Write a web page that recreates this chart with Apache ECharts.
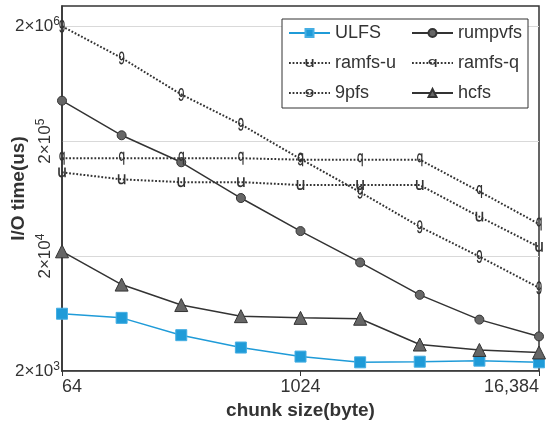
<!DOCTYPE html>
<html>
<head>
<meta charset="utf-8">
<script src="https://cdn.jsdelivr.net/npm/echarts@6/dist/echarts.min.js"></script>
<style>
  html,body{margin:0;padding:0;background:#fff}
  #main{width:550px;height:429px}
</style>
</head>
<body>
<div id="main"></div>
<script>
// chunk sizes (byte) on x, I/O time (us) on y
const chunkSizes = [64, 128, 256, 512, 1024, 2048, 4096, 8192, 16384]
const ulfs    = [6300, 5800, 4100, 3200, 2670, 2380, 2410, 2460, 2380]
const rumpvfs = [450000, 225000, 131000, 64000, 33000, 17600, 9200, 5600, 4000]
const ramfsU  = [107000, 93000, 88000, 88000, 83000, 83000, 83000, 44000, 24000]
const ramfsQ  = [142000, 142000, 142000, 142000, 138000, 138000, 138000, 73000, 38000]
const ninePfs = [2000000, 1060000, 510000, 280000, 140000, 72000, 36000, 19800, 10600]
const hcfs    = [22000, 11300, 7500, 6000, 5800, 5700, 3400, 3050, 2900]

const xTicks = [64, 1024, 16384]
const yTicksFlat = [2000, 2000000]
const yTicksTurned = [20000, 200000]
const yTicksAll = [2000, 20000, 200000, 2000000]

const pairs = arr => chunkSizes.map((c, i) => [c, arr[i]])

// letter markers
const glyphU = 'path://M0,0 H13 V45 C13,55 19,59 30,59 C41,59 47,51 47,42 V0 H60 V70 H48 V61 C43,67 37,71 28,71 C10,71 0,62 0,45 Z'
const glyphQ = 'path://M47,0 H60 V100 H47 V60 C43,67 36,71 27,71 C11,71 0,56 0,35 C0,14 11,0 27,0 C36,0 43,4 47,11 Z M47,35 C47,21 40,12 30,12 C20,12 13,21 13,35 C13,49 20,59 30,59 C40,59 47,49 47,35 Z'
const glyph9 = 'path://M30,0 C48,0 60,14 60,38 V55 C60,85 48,100 28,100 C12,100 3,91 1,77 L14,75 C16,84 21,88 28,88 C40,88 47,78 47,58 C43,66 36,70 27,70 C11,70 0,56 0,36 C0,14 12,0 30,0 Z M30,12 C20,12 13,21 13,36 C13,49 20,58 30,58 C40,58 47,49 47,36 C47,21 40,12 30,12 Z'

function powLabel(v){
  const e = Math.floor(Math.log10(v) + 1e-9)
  return '{a|2×10}{s|' + e + '}'
}
const supRich = {
  a: {fontSize: 17, color: '#333', fontFamily: 'Liberation Sans'},
  s: {fontSize: 12, color: '#333', fontFamily: 'Liberation Sans', padding: [0, 0, 9, 0]}
}

const dark = '#333'
const myChart = echarts.init(document.getElementById('main'))

const dotted = (name, data, glyph, size) => ({
  name: name,
  type: 'line',
  data: pairs(data),
  symbol: glyph,
  symbolSize: size,
  symbolKeepAspect: true,
  lineStyle: {color: dark, width: 2, type: [1.8, 1.8]},
  itemStyle: {color: '#333'}
})

myChart.setOption({
  animation: false,
  grid: {left: 62, right: 11, top: 6, bottom: 58, show: true, borderColor: dark, borderWidth: 1.5, outerBoundsMode: 'none', containLabel: false},
  legend: {
    left: 282, top: 19, width: 236,
    padding: [5, 6, 6, 6],
    itemWidth: 41, itemHeight: 10, itemGap: 12,
    backgroundColor: '#fff', borderColor: dark, borderWidth: 1,
    textStyle: {fontSize: 18, color: '#333', fontFamily: 'Liberation Sans', width: 64, lineHeight: 18},
    data: ['ULFS', 'rumpvfs', 'ramfs-u', 'ramfs-q', '9pfs', 'hcfs']
  },
  xAxis: {
    type: 'log', logBase: 2, min: 64, max: 16384,
    name: 'chunk size(byte)', nameLocation: 'middle', nameGap: 30,
    nameTextStyle: {fontSize: 19, fontWeight: 'bold', color: '#333', fontFamily: 'Liberation Sans'},
    axisLine: {lineStyle: {color: dark, width: 1.5}},
    axisTick: {show: true, length: 5, customValues: xTicks, lineStyle: {color: dark}},
    axisLabel: {
      customValues: xTicks, fontSize: 18, color: '#333', margin: 7,
      fontFamily: 'Liberation Sans',
      alignMinLabel: 'left', alignMaxLabel: 'right',
      formatter: v => v >= 10000 ? String(v).replace(/\B(?=(\d{3})+(?!\d))/g, ',') : String(v)
    },
    splitLine: {show: false}
  },
  yAxis: [{
    type: 'log', min: 2000, max: 3000000,
    name: 'I/O time(us)', nameLocation: 'middle', nameGap: 34, nameMoveOverlap: false,
    nameTextStyle: {fontSize: 19, fontWeight: 'bold', color: '#333', fontFamily: 'Liberation Sans'},
    axisLine: {show: true, lineStyle: {color: dark, width: 1.5}},
    axisTick: {show: false, customValues: yTicksAll},
    axisLabel: {customValues: yTicksFlat, margin: 2, formatter: powLabel, rich: supRich},
    splitLine: {show: true, lineStyle: {color: '#d9d9d9', width: 1}}
  }, {
    type: 'log', min: 2000, max: 3000000, position: 'left',
    axisLine: {show: false}, axisTick: {show: false},
    axisLabel: {customValues: yTicksTurned, rotate: 90, margin: 6, formatter: powLabel, rich: supRich},
    splitLine: {show: false}
  }],
  series: [
    {
      name: 'ULFS', type: 'line', data: pairs(ulfs),
      symbol: 'rect', symbolSize: 11,
      lineStyle: {color: '#1f9bd8', width: 1.5},
      itemStyle: {color: '#1f9bd8', borderColor: '#45aee3', borderWidth: 1}
    },
    {
      name: 'rumpvfs', type: 'line', data: pairs(rumpvfs),
      symbol: 'circle', symbolSize: 9,
      lineStyle: {color: dark, width: 1.5},
      itemStyle: {color: '#666', borderColor: dark, borderWidth: 1}
    },
    dotted('ramfs-u', ramfsU, glyphU, [9, 10]),
    dotted('ramfs-q', ramfsQ, glyphQ, [9, 13]),
    dotted('9pfs', ninePfs, glyph9, [9, 13]),
    {
      name: 'hcfs', type: 'line', data: pairs(hcfs),
      symbol: 'triangle', symbolSize: 13,
      lineStyle: {color: dark, width: 1.5},
      itemStyle: {color: '#666', borderColor: dark, borderWidth: 1}
    }
  ]
})
</script>
</body>
</html>
